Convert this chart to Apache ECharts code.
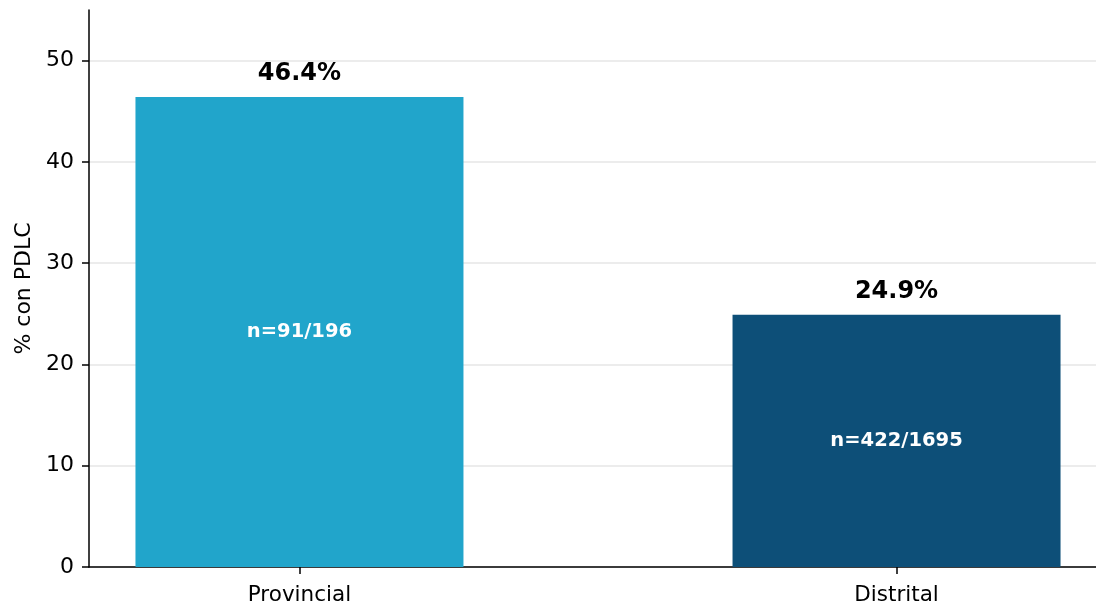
<!DOCTYPE html>
<html>
<head>
<meta charset="utf-8">
<script src="https://cdn.jsdelivr.net/npm/echarts@6/dist/echarts.min.js"></script>
<style>html,body{margin:0;padding:0;background:#fff;}#c{width:1096px;height:606px;}</style>
</head>
<body>
<div id="c"></div>
<script>
const categories = ["Provincial", "Distrital"];
const percentValues = [46.4, 24.9];
const countLabels = ["n=91/196", "n=422/1695"];
const barColors = ["#21A5CB", "#0D4F78"];
const yTicks = [0, 10, 20, 30, 40, 50];

const chart = echarts.init(document.getElementById('c'));
const font = "DejaVu Sans";
const data = percentValues.map((v, i) => ({
  value: [i, v],
  itemStyle: { color: barColors[i] }
}));
const midData = percentValues.map((v, i) => [i, v / 2]);
chart.setOption({
  animation: false,
  grid: { left: 89, width: 1018, top: 10, bottom: 39, outerBoundsMode: 'none', containLabel: false },
  xAxis: {
    type: 'value',
    min: -0.3525, max: 1.3525,
    splitLine: { show: false },
    axisLine: { show: true, onZero: false, lineStyle: { color: '#000', width: 1.5 } },
    axisTick: { show: true, customValues: [0, 1], length: 7, lineStyle: { color: '#000', width: 1.5 } },
    axisLabel: {
      customValues: [0, 1],
      formatter: v => categories[Math.round(v)] || '',
      fontFamily: font, fontSize: 21.5, color: '#000', margin: 17
    }
  },
  yAxis: {
    type: 'value', min: 0, max: 55, interval: 10,
    name: '% con PDLC', nameLocation: 'middle', nameGap: 50,
    nameTextStyle: { fontFamily: font, fontSize: 22, color: '#000' },
    axisLine: { show: true, onZero: false, lineStyle: { color: '#000', width: 1.5 } },
    axisTick: { show: true, length: 7, lineStyle: { color: '#000', width: 1.5 }, customValues: yTicks },
    axisLabel: { customValues: yTicks, fontFamily: font, fontSize: 22, color: '#000', margin: 15 },
    splitLine: { show: true, lineStyle: { color: '#e6e6e6', width: 1.5 } }
  },
  series: [{
    type: 'bar',
    data: data,
    barWidth: 328,
    label: {
      show: true, position: 'top', distance: 11,
      formatter: p => percentValues[p.dataIndex].toFixed(1) + '%',
      fontFamily: font, fontSize: 24, fontWeight: 'bold', color: '#000'
    },
    z: 3
  }, {
    type: 'scatter',
    data: midData,
    symbolSize: 0,
    silent: true,
    itemStyle: { opacity: 1 },
    label: {
      show: true, position: 'inside',
      formatter: p => countLabels[p.dataIndex],
      fontFamily: font, fontSize: 19.5, fontWeight: 'bold', color: '#fff'
    },
    z: 5
  }]
});
</script>
</body>
</html>
